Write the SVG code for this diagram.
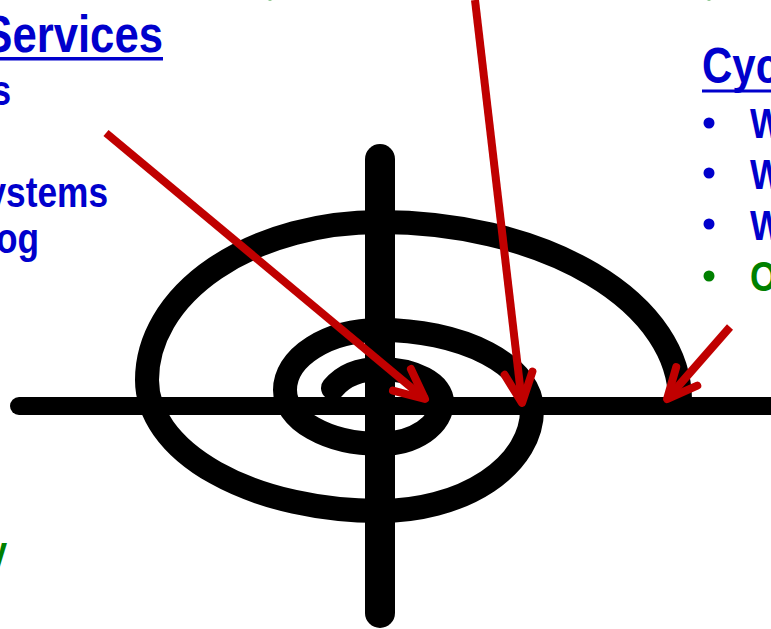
<svg xmlns="http://www.w3.org/2000/svg" width="771" height="629" viewBox="0 0 771 629">
  <style>
    .ink { fill: none; stroke: #000; stroke-linecap: round; stroke-linejoin: round; }
    .arrow { fill: none; stroke: #C00000; stroke-width: 8; stroke-linecap: butt; }
    .t { font-family: "Liberation Sans", Arial, sans-serif; font-weight: bold; }
    .blue { fill: #0000CC; }
    .green { fill: #008000; }
  </style>
  <defs>
    <marker id="ah" markerUnits="userSpaceOnUse" markerWidth="60" markerHeight="60" viewBox="-45 -30 60 60" refX="0" refY="0" orient="auto" overflow="visible">
      <path d="M -30 -14 L 0 0 L -30 14" fill="none" stroke="#C00000" stroke-width="8" stroke-linecap="round" stroke-linejoin="round"/>
    </marker>
  </defs>
  <rect width="771" height="629" fill="#fff"/>

  <g id="spiral">
    <path class="ink" stroke-width="24" d="M 333 388 C 343 376, 358 369, 380 369 A 62 33 0 0 1 442 402 A 62 42 0 0 1 380 444 A 95 54 0 0 1 285 390 A 95 60 0 0 1 380 330 A 152 80 0 0 1 532 410 A 152 101 0 0 1 380 511 A 233 131 0 0 1 147 380 A 233 158 0 0 1 380 222 A 300 178 0 0 1 680 400"/>
  </g>

  <g id="axes">
    <line class="ink" x1="19" y1="406" x2="790" y2="406" stroke-width="18"/>
    <line class="ink" x1="380" y1="159" x2="380" y2="613" stroke-width="30"/>
  </g>

  <g id="connectors">
    <line class="arrow" x1="106" y1="133" x2="425" y2="399" marker-end="url(#ah)"/>
    <line class="arrow" x1="475" y1="0" x2="522" y2="403" marker-end="url(#ah)"/>
    <line class="arrow" x1="730" y1="327" x2="667" y2="399" marker-end="url(#ah)"/>
  </g>

  <g id="left-text">
    <text class="t blue" text-anchor="end" font-size="52" transform="translate(163,52) scale(0.84,1)">Services</text>
    <rect class="blue" x="0" y="57" width="163" height="3.5"/>
    <text class="t blue" text-anchor="end" font-size="42" transform="translate(11,105) scale(0.84,1)">s</text>
    <text class="t blue" text-anchor="end" font-size="42" transform="translate(108,207) scale(0.84,1)">ystems</text>
    <text class="t blue" text-anchor="end" font-size="42" transform="translate(39,253) scale(0.84,1)">og</text>
    <text class="t green" text-anchor="end" font-size="42" transform="translate(7,566) scale(0.84,1)">y</text>
  </g>

  <g id="right-text">
    <text class="t blue" font-size="50" transform="translate(702,83) scale(0.84,1)">Cyc</text>
    <rect class="blue" x="702" y="89.5" width="69" height="3"/>
    <circle class="blue" cx="709" cy="123" r="5.5"/>
    <text class="t blue" font-size="42" transform="translate(750,138) scale(0.84,1)">W</text>
    <circle class="blue" cx="709" cy="173" r="5.5"/>
    <text class="t blue" font-size="42" transform="translate(750,189) scale(0.84,1)">W</text>
    <circle class="blue" cx="709" cy="224" r="5.5"/>
    <text class="t blue" font-size="42" transform="translate(750,240) scale(0.84,1)">W</text>
    <circle class="green" cx="709" cy="276" r="5.5"/>
    <text class="t green" font-size="42" transform="translate(750,291) scale(0.84,1)">O</text>
  </g>

  <g id="top-fragments">
    <circle class="green" cx="709" cy="-5" r="5.5"/>
    <circle class="green" cx="270" cy="-5" r="5.5"/>
  </g>
</svg>
